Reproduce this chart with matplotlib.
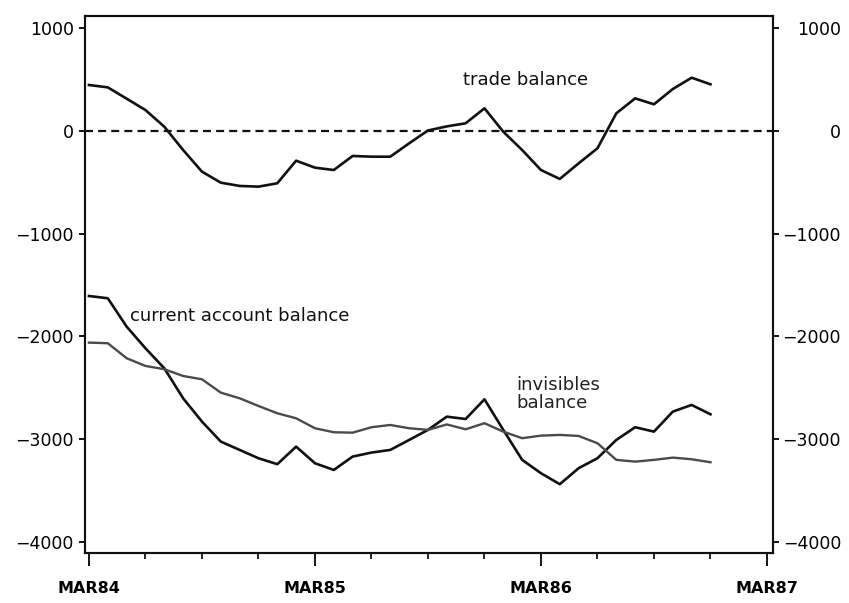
import matplotlib
matplotlib.use("Agg")
import matplotlib.pyplot as plt
import numpy as np

# Monthly data, Mar 1984 .. Dec 1986
trade = [448, 425, 315, 204, 42, -185, -396, -503, -535, -542, -509, -289,
         -357, -380, -243, -250, -250, -120, 5, 45, 75, 221, -7, -185,
         -380, -467, -315, -168, 172, 318, 260, 409, 519, 455]
current_account = [-1607, -1629, -1905, -2116, -2311, -2603, -2830, -3025, -3106, -3187, -3245, -3074,
                   -3236, -3301, -3171, -3132, -3106, -3009, -2911, -2782, -2805, -2613, -2911, -3203,
                   -3333, -3440, -3284, -3187, -3009, -2885, -2928, -2733, -2668, -2759]
invisibles = [-2061, -2067, -2213, -2288, -2320, -2386, -2418, -2548, -2603, -2678, -2749, -2798,
              -2895, -2934, -2938, -2885, -2863, -2895, -2911, -2858, -2905, -2846, -2928, -2992,
              -2967, -2960, -2970, -3041, -3203, -3220, -3203, -3181, -3197, -3226]
xtick_labels = ["MAR84", "MAR85", "MAR86", "MAR87"]
ytick_values = [1000, 0, -1000, -2000, -3000, -4000]
ytick_labels = ["1000", "0", "\u22121000", "\u22122000", "\u22123000", "\u22124000"]

months = np.arange(len(trade))

fig = plt.figure(figsize=(8.49, 6.03), dpi=100)
ax = fig.add_axes([85/849, 1-553/603, (773-85)/849, (553-15.7)/603])

ax.plot(months, trade, color="#111111", lw=1.9)
ax.plot(months, current_account, color="#111111", lw=1.9)
ax.plot(months, invisibles, color="#4a4a4a", lw=1.7)
ax.axhline(0, color="#111111", lw=1.6, dashes=(3.6, 2.3))

ax.set_xlim(-0.21, 36.32)
ax.set_ylim(-4110, 1123)

for s in ax.spines.values():
    s.set_linewidth(1.5)
    s.set_color("#111111")

ax.set_xticks([0, 12, 24, 36])
ax.set_xticklabels(xtick_labels)
ax.set_xticks(np.arange(0, 37, 3), minor=True)
ax.tick_params(axis="x", which="major", length=9, width=1.3, pad=11, labelsize=11.5, direction="out")
ax.tick_params(axis="x", which="minor", length=4.5, width=1.2, direction="out")
for t in ax.get_xticklabels():
    t.set_fontweight("bold")

ax.set_yticks(ytick_values)
ax.set_yticklabels(ytick_labels)
ax.tick_params(axis="y", which="major", length=4, width=1.3, pad=4, labelsize=12.5, direction="out")

ax2 = ax.twinx()
ax2.set_ylim(ax.get_ylim())
ax2.set_yticks(ytick_values)
ax2.set_yticklabels(ytick_labels)
ax2.tick_params(axis="y", which="major", length=4, width=1.3, pad=45, labelsize=12.5, direction="out")
for t in ax2.get_yticklabels():
    t.set_horizontalalignment("right")
for s in ax2.spines.values():
    s.set_linewidth(1.5)
    s.set_color("#111111")

ax.text(19.85, 500, "trade balance", fontsize=13, color="#111111", va="center", ha="left")
ax.text(2.2, -1800, "current account balance", fontsize=13, color="#111111", va="center", ha="left")
ax.text(22.7, -2560, "invisibles\nbalance", fontsize=13, color="#222222", va="center", ha="left",
        linespacing=0.95)

fig.savefig("out.png", dpi=100)
